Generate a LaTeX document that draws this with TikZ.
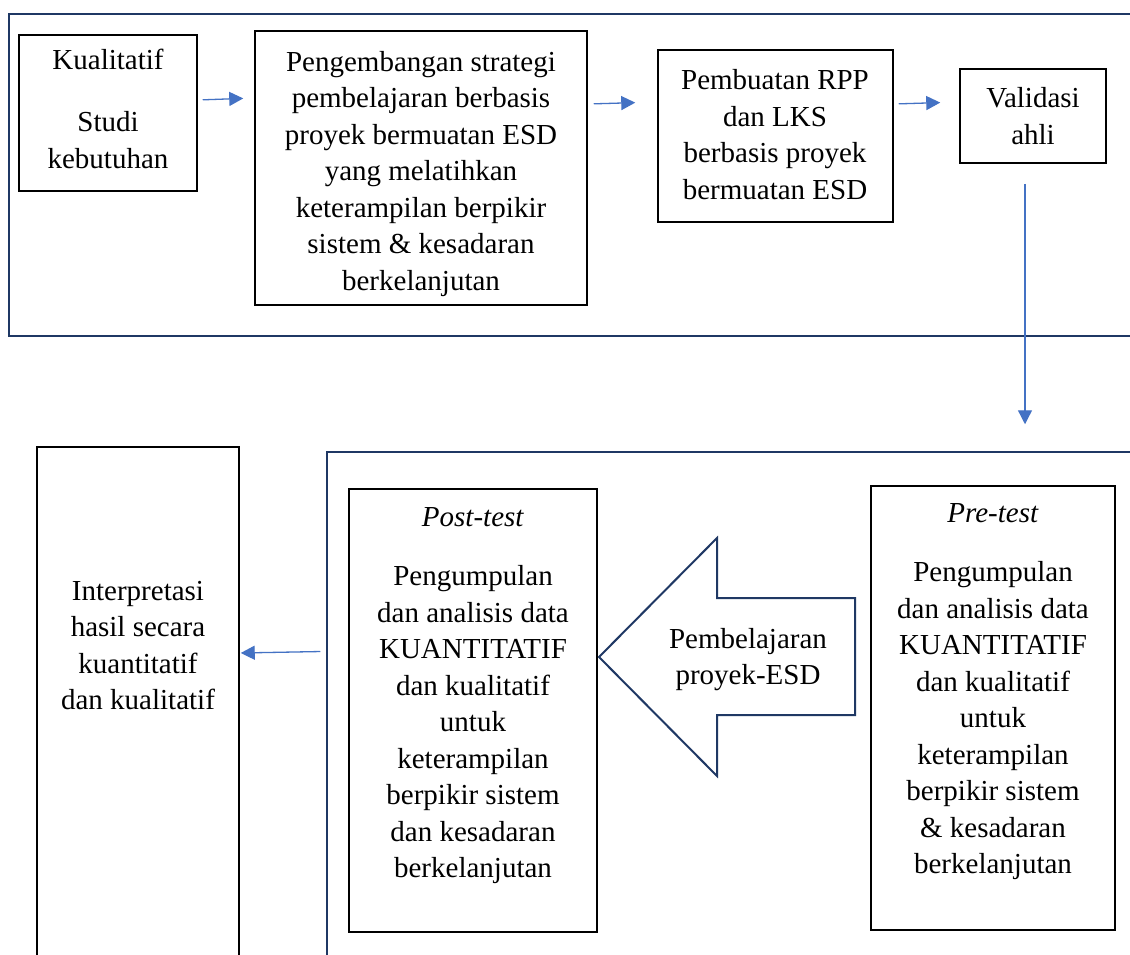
\documentclass[tikz,border=0pt]{standalone}
\usepackage{fontspec}
\setmainfont{Liberation Serif}
\usetikzlibrary{arrows.meta,calc}
\definecolor{navy}{HTML}{1F3864}
\definecolor{arrowblue}{HTML}{4472C4}
\begin{document}
\begin{tikzpicture}[x=1pt,y=-1pt,
  box/.style={draw=black, line width=1.5pt, inner sep=0pt},
  frame/.style={draw=navy, line width=2.5pt},
  txt/.style={align=center, font=\fontsize{29}{36.5}\selectfont, inner sep=0pt},
  arr/.style={draw=arrowblue, line width=1.3pt, -{Triangle[length=14pt,width=14pt]}},
  blockarrow/.style={draw=navy, line width=2pt, line join=miter},
]
\useasboundingbox (0,0) rectangle (1130,954);
\clip (0,0) rectangle (1130,954);
\fill[white] (0,0) rectangle (1130,954);

% frames
\draw[frame] (1140,14) -- (9,14) -- (9,336) -- (1140,336);
\draw[frame] (327,970) -- (327,452) -- (1140,452);

% boxes
\node[box, minimum width=178pt, minimum height=156pt] (kual) at (108,113) {};
\node[box, minimum width=332pt, minimum height=274pt] (peng) at (421,168) {};
\node[box, minimum width=235pt, minimum height=172pt] (pemb) at (775.5,136) {};
\node[box, minimum width=146pt, minimum height=94pt] (vali) at (1033,116) {};
\node[box, minimum width=202pt, minimum height=528pt] (interp) at (138,711) {};
\node[box, minimum width=248pt, minimum height=443pt] (post) at (473,710.5) {};
\node[box, minimum width=244pt, minimum height=444pt] (pre) at (993,708) {};

% texts
\node[txt] (kualtxt) at (108,109) {Kualitatif\\[25.5pt]Studi\\kebutuhan};
\node[txt] (pengtxt) at (421,174) {Pengembangan strategi\\pembelajaran berbasis\\proyek bermuatan ESD\\yang melatihkan\\keterampilan berpikir\\sistem \& kesadaran\\berkelanjutan};
\node[txt] (pembtxt) at (775,134.5) {Pembuatan RPP\\dan LKS\\berbasis proyek\\bermuatan ESD};
\node[txt] (valitxt) at (1033,116) {Validasi\\ahli};
\node[txt] (interptxt) at (138,645.5) {Interpretasi\\hasil secara\\kuantitatif\\dan kualitatif};
\node[txt] (posttxt) at (473,696) {\textit{Post-test}\\[22.5pt]Pengumpulan\\dan analisis data\\KUANTITATIF\\dan kualitatif\\untuk\\keterampilan\\berpikir sistem\\dan kesadaran\\berkelanjutan};
\node[txt] (pretxt) at (993,692) {\textit{Pre-test}\\[22.5pt]Pengumpulan\\dan analisis data\\KUANTITATIF\\dan kualitatif\\untuk\\keterampilan\\berpikir sistem\\\& kesadaran\\berkelanjutan};

% block arrow
\draw[blockarrow] (599,657) -- (717,538) -- (717,598) -- (855,598) -- (855,715) -- (717,715) -- (717,776) -- cycle;
\node[txt] (pbl) at (748,659.5) {Pembelajaran\\proyek-ESD};

% connectors
\draw[arr, shorten <=5pt, shorten >=11pt] (kual.east |- 0,100) -- (peng.west |- 0,98);
\draw[arr, shorten <=6pt, shorten >=22pt] (peng.east |- 0,104) -- (pemb.west |- 0,102);
\draw[arr, shorten <=5pt, shorten >=19pt] (pemb.east |- 0,104) -- (vali.west |- 0,102);
\draw[arr, shorten <=20pt, shorten >=61pt] (vali.south -| 1025,0) -- (pre.north -| 1025,0);
\draw[arr, shorten <=28pt, shorten >=1pt] (post.west |- 0,651) -- (interp.east |- 0,653);
\end{tikzpicture}
\end{document}
